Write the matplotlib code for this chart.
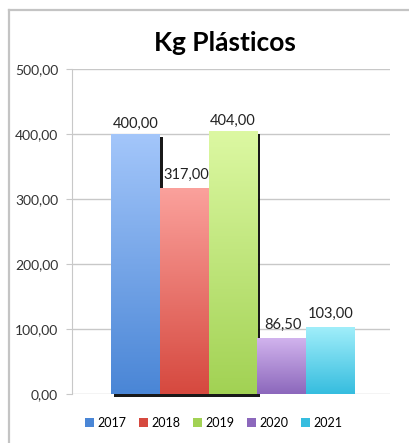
import numpy as np
import matplotlib
matplotlib.use("Agg")
import matplotlib.pyplot as plt
import matplotlib.patheffects as pe
from matplotlib.colors import LinearSegmentedColormap
from matplotlib.lines import Line2D
from matplotlib.patches import Patch

plt.rcParams['font.family'] = ['Lato', 'DejaVu Sans']

years = ['2017', '2018', '2019', '2020', '2021']
kg = [400.00, 317.00, 404.00, 86.50, 103.00]
labels = ['400,00', '317,00', '404,00', '86,50', '103,00']
yticks = [0, 100, 200, 300, 400, 500]
ytick_labels = ['0,00', '100,00', '200,00', '300,00', '400,00', '500,00']

# top colour, bottom colour
colors = [('#a3c6fa', '#4a86d6'),
          ('#fba19c', '#d6493f'),
          ('#dcf8a2', '#a2d254'),
          ('#d2b4ee', '#8c68bc'),
          ('#a0eefa', '#36bddf')]

fig = plt.figure(figsize=(4.09, 4.43), dpi=100)
ax = fig.add_axes([72/409, 1-394/443, 318/409, 325/443])

# outer frame of the chart
fig.add_artist(Line2D([9/409, 9/409], [0, 1-10/443], color='#c4c4c4', lw=1.6))
fig.add_artist(Line2D([9/409, 1], [1-10/443, 1-10/443], color='#c4c4c4', lw=1.6))

x = np.arange(len(years))
for i, (v, c) in enumerate(zip(kg, colors)):
    effects = [pe.Normal()]
    if i < 3:
        effects = [pe.SimplePatchShadow(offset=(2.2, -2), shadow_rgbFace='black', alpha=0.9), pe.Normal()]
    b = ax.bar(x[i], v, width=1.0, color=c[0], edgecolor='none', zorder=2 + i * 0.1,
               clip_on=False)[0]
    b.set_path_effects(effects)
    cmap = LinearSegmentedColormap.from_list('g%d' % i, [c[1], c[0]])
    grad = np.linspace(0, 1, 100).reshape(-1, 1)
    im = ax.imshow(grad, cmap=cmap, aspect='auto', origin='lower',
                   extent=[x[i] - 0.5, x[i] + 0.5, 0, v], zorder=3 + i * 0.1)
    im.set_clip_path(b)

label_pos = [(0, 405), (0.05, 327), (0, 410), (0.02, 95), (0, 112)]
for i, (dx, yy) in enumerate(label_pos):
    ax.text(x[i] + dx, yy, labels[i], ha='center', va='bottom', fontsize=10.5,
            color='#222222', zorder=10)

ax.set_xlim(-1.3, 5.22)
ax.set_ylim(0, 500)
ax.set_yticks(yticks)
ax.set_yticklabels(ytick_labels, fontsize=10, color='#333333')
ax.set_xticks([])
ax.grid(axis='y', color='#c8c8c8', lw=1.0, zorder=0)
ax.set_axisbelow(True)
for s in ['top', 'right', 'bottom']:
    ax.spines[s].set_visible(False)
ax.spines['left'].set_color('#c8c8c8')
ax.tick_params(axis='y', length=4, color='#c8c8c8', pad=6)

fig.text(225/409, 1-43/443, 'Kg Plásticos', ha='center', va='center',
         fontsize=19, fontweight='bold', color='black')

handles = [Patch(facecolor=c[1], edgecolor='none') for c in colors]
fig.legend(handles, years, loc='center', bbox_to_anchor=(214/409, 1-423/443),
           ncol=5, frameon=False, fontsize=9, handlelength=0.7, handleheight=0.7,
           handletextpad=0.3, columnspacing=1.0)

fig.savefig('out.png', dpi=100)
